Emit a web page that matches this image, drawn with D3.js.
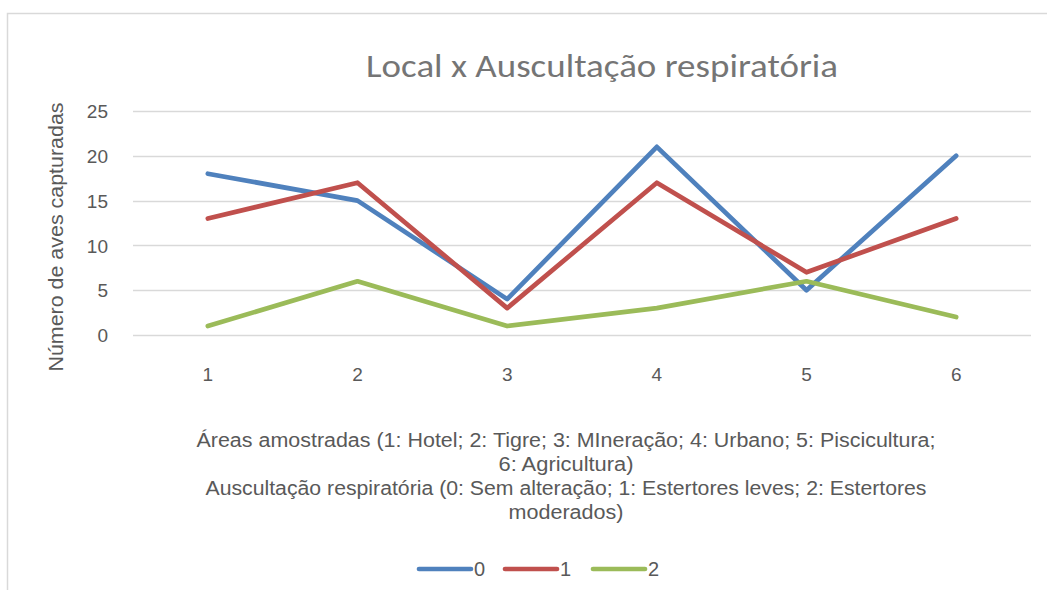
<!DOCTYPE html>
<html><head><meta charset="utf-8">
<script src="https://cdn.jsdelivr.net/npm/d3@7"></script>
<style>body{margin:0;background:#fff}svg{display:block}</style>
</head><body>
<svg id="c" width="1047" height="590"></svg>
<script>
const categories = ["1","2","3","4","5","6"];
const series0 = [18,15,4,21,5,20];
const series1 = [13,17,3,17,7,13];
const series2 = [1,6,1,3,6,2];
const seriesNames = ["0","1","2"];
const yTicks = [0,5,10,15,20,25];
const titleText = "Local x Auscultação respiratória";
const yTitle = "Número de aves capturadas";
const xTitleLines = ["Áreas amostradas (1: Hotel; 2: Tigre; 3: MIneração; 4: Urbano; 5: Piscicultura;","6: Agricultura)","Auscultação respiratória (0: Sem alteração; 1: Estertores leves; 2: Estertores","moderados)"];

const colors = ["#4f81bd","#c0504d","#9bbb59"];
const svg = d3.select("#c");
svg.append("rect").attr("x",7.5).attr("y",13.5).attr("width",1100).attr("height",700)
  .attr("fill","#fff").attr("stroke","#d9d9d9").attr("stroke-width",1.5);

const x = d3.scaleBand().domain(categories).range([133,1031]);
const y = d3.scaleLinear().domain([0,25]).range([335,111]);

const g = svg.append("g");
g.selectAll("line.grid").data(yTicks).join("line")
  .attr("x1",133).attr("x2",1031)
  .attr("y1",d=>Math.round(y(d))+0.5).attr("y2",d=>Math.round(y(d))+0.5)
  .attr("stroke","#d9d9d9").attr("stroke-width",1.3);

const yAxis = d3.axisLeft(y).tickValues(yTicks).tickSize(0).tickPadding(0);
svg.append("g").attr("transform","translate(108,0)").call(yAxis)
  .call(a=>a.select(".domain").remove())
  .selectAll("text").attr("font-family","Liberation Sans, Arial, sans-serif")
  .attr("font-size",19).attr("fill","#595959").attr("dy","0.35em");

const xAxis = d3.axisBottom(x).tickSize(0).tickPadding(0);
svg.append("g").attr("transform","translate(0,374)").call(xAxis)
  .call(a=>a.select(".domain").remove())
  .selectAll("text").attr("font-family","Liberation Sans, Arial, sans-serif")
  .attr("font-size",19).attr("fill","#595959").attr("dy","0.35em");

const allSeries = [series0,series1,series2];
const line = d3.line().x((d,i)=>x(categories[i])+x.bandwidth()/2).y(d=>y(d));
allSeries.forEach((s,k)=>{
  svg.append("path").datum(s).attr("d",line).attr("fill","none")
    .attr("stroke",colors[k]).attr("stroke-width",4.7)
    .attr("stroke-linejoin","round").attr("stroke-linecap","round");
});

svg.append("text").attr("x",602).attr("y",77).attr("text-anchor","middle")
  .attr("font-family","Carlito, Lato, 'Open Sans', sans-serif").attr("font-size",33).attr("font-weight",300)
  .attr("fill","#757575").attr("textLength",472).attr("lengthAdjust","spacingAndGlyphs").text(titleText);

svg.append("text").attr("transform","translate(63,237) rotate(-90)").attr("text-anchor","middle")
  .attr("font-family","Liberation Sans, Arial, sans-serif").attr("font-size",21)
  .attr("fill","#595959").attr("textLength",269).attr("lengthAdjust","spacingAndGlyphs").text(yTitle);

const xtLens = [739,135,721,115];
svg.append("g").selectAll("text").data(xTitleLines).join("text")
  .attr("x",566).attr("y",(d,i)=>447+i*24).attr("text-anchor","middle")
  .attr("font-family","'Liberation Sans Narrow', 'Liberation Sans', sans-serif").attr("font-size",20)
  .attr("fill","#595959")
  .attr("textLength",(d,i)=>xtLens[i]).attr("lengthAdjust","spacingAndGlyphs")
  .text(d=>d);

const leg = svg.append("g");
const legX = [417,503,591];
seriesNames.forEach((n,k)=>{
  leg.append("line").attr("x1",legX[k]+2).attr("x2",legX[k]+54).attr("y1",569).attr("y2",569)
    .attr("stroke",colors[k]).attr("stroke-width",4.7).attr("stroke-linecap","round");
  leg.append("text").attr("x",legX[k]+57).attr("y",569).attr("dy","0.35em")
    .attr("font-family","Liberation Sans, Arial, sans-serif").attr("font-size",20)
    .attr("fill","#595959").text(n);
});
</script>
</body></html>
